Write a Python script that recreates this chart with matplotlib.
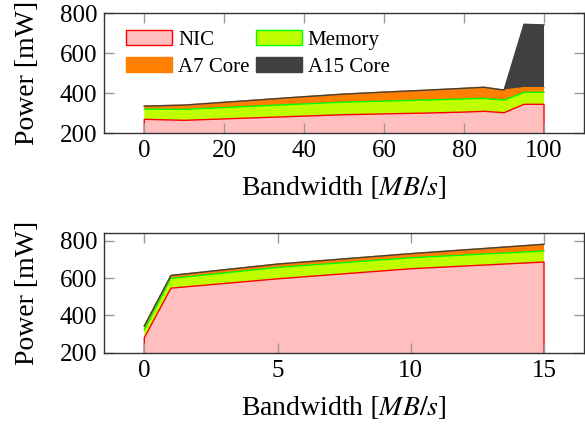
import numpy as np
import matplotlib
matplotlib.use("Agg")
import matplotlib.pyplot as plt
from matplotlib.patches import Patch

plt.rcParams['font.family'] = ['Liberation Serif', 'DejaVu Serif']
plt.rcParams['mathtext.fontset'] = 'stix'

# --- data: top chart (bandwidth 0..100 MB/s), power in mW
bw_top = [0, 10, 20, 30, 40, 50, 60, 70, 80, 85, 90, 95, 100]
nic_top = [270, 265, 272, 279, 286, 293, 297, 301, 306, 310, 303, 345, 345]
mem_top = [51, 55, 57, 59, 61, 63, 64, 65, 66, 65, 63, 60, 60]
a7_top = [15, 21, 26, 31, 36, 40, 45, 49, 53, 55, 50, 23, 23]
a15_top = [0, 0, 0, 0, 0, 0, 0, 0, 0, 0, 0, 317, 314]

# --- data: bottom chart (bandwidth 0..15 MB/s)
bw_bot = [0, 1, 5, 10, 15]
nic_bot = [280, 546, 596, 650, 686]
mem_bot = [42, 52, 61, 59, 59]
a7_bot = [21, 16, 18, 22, 36]
a15_bot = [0, 0, 0, 0, 0]

labels = ["NIC", "Memory", "A7 Core", "A15 Core"]
fills = ["#ffbfbf", "#bfff00", "#ff8000", "#404040"]
edges = ["#ff0000", "#00ff00", "#ff8000", "#404040"]


def stacked(ax, x, series):
    base = np.zeros(len(x))
    tops = []
    for vals, fc in zip(series, fills):
        top = base + np.array(vals)
        ax.fill_between(x, base, top, facecolor=fc, edgecolor='none')
        tops.append(top)
        base = top
    # outline of the NIC area, then the top edge of each layer
    ax.fill_between(x, 0, tops[0], facecolor='none', edgecolor=edges[0],
                    linewidth=1.0)
    for top, ec in zip(tops[1:], edges[1:]):
        ax.plot(x, top, color=ec, linewidth=1.0)


def style(ax):
    ax.tick_params(direction='in', length=7, width=1, color='#999999',
                   top=True, right=True, labelsize=18, pad=5)
    for s in ax.spines.values():
        s.set_color('#333333')
        s.set_linewidth(1.0)
    ax.set_ylabel("Power [mW]", fontsize=20, labelpad=14)
    ax.set_xlabel(r"Bandwidth $[MB/s]$", fontsize=20, labelpad=9)
    ax.set_yticks([200, 400, 600, 800])


fig = plt.figure(figsize=(5.85, 4.25), dpi=100)
ax1 = fig.add_axes([104.3 / 585, (425 - 133.3) / 425, 479.7 / 585, 120 / 425])
ax2 = fig.add_axes([104.3 / 585, (425 - 352.7) / 425, 479.7 / 585, 119.4 / 425])

stacked(ax1, bw_top, [nic_top, mem_top, a7_top, a15_top])
ax1.set_xlim(-10, 110)
ax1.set_ylim(200, 800)
ax1.set_xticks([0, 20, 40, 60, 80, 100])
style(ax1)

stacked(ax2, bw_bot, [nic_bot, mem_bot, a7_bot, a15_bot])
ax2.set_xlim(-1.5, 16.5)
ax2.set_ylim(200, 840)
ax2.set_xticks([0, 5, 10, 15])
style(ax2)

handles = [Patch(facecolor=fc, edgecolor=ec, linewidth=1.0)
           for fc, ec in zip(fills, edges)]
# legend fills column by column, so order it to read NIC, Memory / A7, A15
order = [0, 2, 1, 3]
ax1.legend(handles=[handles[i] for i in order],
           labels=[labels[i] for i in order], ncol=2, frameon=False,
           fontsize=15, loc='upper left', bbox_to_anchor=(0.045, 0.86),
           borderaxespad=0, borderpad=0, handlelength=2.2, handleheight=0.7,
           handletextpad=0.3, columnspacing=0.3, labelspacing=0.35)

fig.savefig("out.png", dpi=100)
